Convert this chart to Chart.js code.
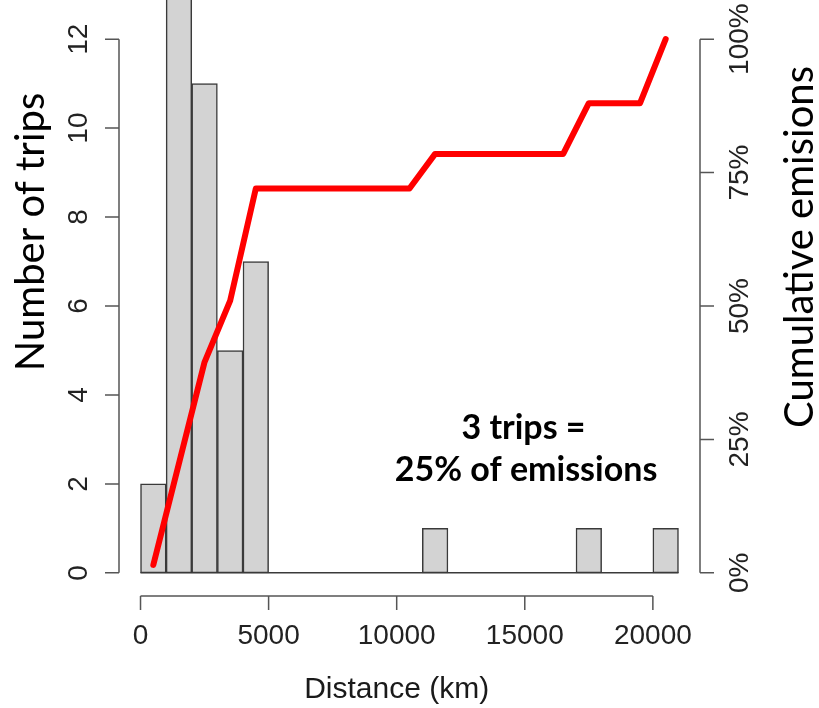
<!DOCTYPE html>
<html>
<head>
<meta charset="utf-8">
<script src="https://cdn.jsdelivr.net/npm/chart.js@4.4.1/dist/chart.umd.min.js"></script>
<style>
    html, body { margin: 0; padding: 0; background: #ffffff; }
    #wrap { width: 819px; height: 708px; position: relative; }
</style>
</head>
<body>
<div id="wrap"><canvas id="tripsChart"></canvas></div>
<script>
// Histogram bins (km) and trip counts per bin.
const binEdges = [0, 1000, 2000, 3000, 4000, 5000, 6000, 7000, 8000, 9000, 10000,
    11000, 12000, 13000, 14000, 15000, 16000, 17000, 18000, 19000, 20000, 21000];
const tripCounts = [2, 13, 11, 5, 7, 0, 0, 0, 0, 0, 0, 1, 0, 0, 0, 0, 0, 1, 0, 0, 1];

// Cumulative emissions curve (red line).
const cumDistance = [500, 2500, 3500, 4500, 10500, 11500, 16500, 17500, 19500, 20500];
const cumEmissions = [1.5, 39.5, 51, 72, 72, 78.5, 78.5, 88, 88, 100];

// Axis ticks.
const xTicks = [0, 5000, 10000, 15000, 20000];
const yTicks = [0, 2, 4, 6, 8, 10, 12];
const pctTicks = [0, 25, 50, 75, 100];

const annotationLines = ["3 trips =", "25% of emissions"];

document.addEventListener("DOMContentLoaded", () => {
    const yMin = -0.52;
    const yMax = 12.88;
    const pctScale = 100 / yTicks[yTicks.length - 1];

    const barData = tripCounts.map((c, i) => ({ x: (binEdges[i] + binEdges[i + 1]) / 2, y: c }));
    const lineData = cumDistance.map((d, i) => ({ x: d, y: cumEmissions[i] }));

    const axisColor = "#555555";
    const tickFont = "28px 'Liberation Sans', Arial, sans-serif";

    // R-style detached axes, histogram baseline and text.
    const rAxes = {
        id: "rAxes",
        beforeDatasetsDraw(chart) {
            const { ctx, scales: { x, y } } = chart;
            ctx.save();
            ctx.strokeStyle = "#3a3a3a";
            ctx.lineWidth = 1.5;
            ctx.beginPath();
            ctx.moveTo(x.getPixelForValue(binEdges[0]), y.getPixelForValue(0));
            ctx.lineTo(x.getPixelForValue(binEdges[binEdges.length - 1]), y.getPixelForValue(0));
            ctx.stroke();
            ctx.restore();
        },
        afterDraw(chart) {
            const { ctx, chartArea, scales: { x, y, y2 } } = chart;
            ctx.save();
            ctx.strokeStyle = axisColor;
            ctx.lineWidth = 1.5;
            ctx.fillStyle = "#222222";
            ctx.font = tickFont;
            ctx.textAlign = "center";
            ctx.textBaseline = "middle";

            // left axis
            const lx = chartArea.left;
            ctx.beginPath();
            ctx.moveTo(lx, y.getPixelForValue(yTicks[0]));
            ctx.lineTo(lx, y.getPixelForValue(yTicks[yTicks.length - 1]));
            yTicks.forEach((t) => {
                const py = y.getPixelForValue(t);
                ctx.moveTo(lx - 14, py);
                ctx.lineTo(lx, py);
            });
            ctx.stroke();
            yTicks.forEach((t) => {
                const py = y.getPixelForValue(t);
                ctx.save();
                ctx.translate(lx - 40, py);
                ctx.rotate(-Math.PI / 2);
                ctx.fillText(String(t), 0, 0);
                ctx.restore();
            });

            // right axis
            const rx = chartArea.right;
            ctx.beginPath();
            ctx.moveTo(rx, y2.getPixelForValue(pctTicks[0]));
            ctx.lineTo(rx, y2.getPixelForValue(pctTicks[pctTicks.length - 1]));
            pctTicks.forEach((t) => {
                const py = y2.getPixelForValue(t);
                ctx.moveTo(rx, py);
                ctx.lineTo(rx + 14, py);
            });
            ctx.stroke();
            pctTicks.forEach((t) => {
                const py = y2.getPixelForValue(t);
                ctx.save();
                ctx.translate(rx + 40, py);
                ctx.rotate(-Math.PI / 2);
                ctx.fillText(t + "%", 0, 0);
                ctx.restore();
            });

            // bottom axis
            const by = chartArea.bottom;
            ctx.beginPath();
            ctx.moveTo(x.getPixelForValue(xTicks[0]), by);
            ctx.lineTo(x.getPixelForValue(xTicks[xTicks.length - 1]), by);
            xTicks.forEach((t) => {
                const px = x.getPixelForValue(t);
                ctx.moveTo(px, by);
                ctx.lineTo(px, by + 14);
            });
            ctx.stroke();
            xTicks.forEach((t) => {
                ctx.fillText(String(t), x.getPixelForValue(t), by + 40);
            });

            // axis titles
            ctx.fillStyle = "#1a1a1a";
            ctx.font = "30px 'Liberation Sans', Arial, sans-serif";
            ctx.fillText("Distance (km)", (x.getPixelForValue(xTicks[0]) + x.getPixelForValue(xTicks[xTicks.length - 1])) / 2, by + 94);

            ctx.fillStyle = "#000000";
            ctx.font = "40px Lato, 'Open Sans', sans-serif";
            ctx.save();
            ctx.translate(31, 232);
            ctx.rotate(-Math.PI / 2);
            ctx.fillText("Number of trips", 0, 0);
            ctx.restore();
            ctx.save();
            ctx.translate(800, 247);
            ctx.rotate(-Math.PI / 2);
            ctx.fillText("Cumulative emisions", 0, 0);
            ctx.restore();

            // annotation
            ctx.font = "bold 34px Lato, 'Open Sans', sans-serif";
            ctx.fillText(annotationLines[0], x.getPixelForValue(14950), y.getPixelForValue(3.26));
            ctx.fillText(annotationLines[1], x.getPixelForValue(15050), y.getPixelForValue(2.31));
            ctx.restore();
        }
    };

    const ctxChart = document.getElementById("tripsChart").getContext("2d");
    new Chart(ctxChart, {
        data: {
            datasets: [
                {
                    type: "line",
                    data: lineData,
                    yAxisID: "y2",
                    borderColor: "#ff0000",
                    borderWidth: 6,
                    borderJoinStyle: "round",
                    borderCapStyle: "round",
                    pointRadius: 0,
                    tension: 0,
                    order: 0
                },
                {
                    type: "bar",
                    data: barData,
                    yAxisID: "y",
                    backgroundColor: "#d3d3d3",
                    borderColor: "#3a3a3a",
                    borderWidth: 1.5,
                    borderSkipped: false,
                    barPercentage: 1,
                    categoryPercentage: 1,
                    grouped: false,
                    order: 1
                }
            ]
        },
        options: {
            responsive: true,
            maintainAspectRatio: false,
            animation: false,
            layout: { padding: { left: 119, right: 119, top: 0, bottom: 112 } },
            plugins: { legend: { display: false }, tooltip: { enabled: false } },
            scales: {
                x: {
                    type: "linear",
                    min: -840,
                    max: 21840,
                    offset: false,
                    display: false,
                    afterBuildTicks: (scale) => {
                        scale.ticks = binEdges.map((v) => ({ value: v }));
                    }
                },
                y: { type: "linear", min: yMin, max: yMax, display: false },
                y2: { type: "linear", min: yMin * pctScale, max: yMax * pctScale, display: false }
            }
        },
        plugins: [rAxes]
    });
});
</script>
</body>
</html>
